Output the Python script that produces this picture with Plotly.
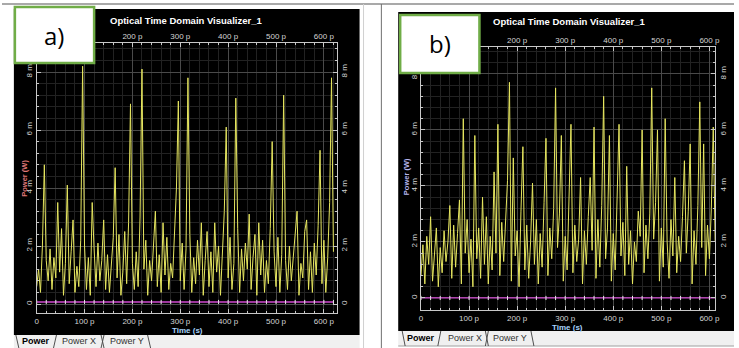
import plotly.graph_objects as go

W, H = 739, 348

# ---------------- data ----------------
dt_ps = 4  # sampling step of the traces, ps

# panel a) : optical power, mW
power_a_mW = [0.6, 1.2, 0.4, 2.0, 4.8, 1.5, 0.8, 1.9, 0.5, 1.6,
              0.9, 3.5, 1.1, 2.6, 0.3, 1.4, 4.1, 0.7, 1.8, 2.9,
              0.4, 1.3, 0.6, 2.2, 8.2, 2.0, 0.5, 1.6, 0.3, 3.5,
              1.9, 0.6, 2.1, 0.8, 1.5, 2.9, 0.5, 1.7, 0.4, 1.2,
              2.3, 4.7, 0.9, 2.4, 0.3, 1.1, 2.5, 0.7, 2.8, 6.9,
              1.4, 0.5, 1.8, 0.6, 3.0, 8.1, 1.2, 2.2, 0.3, 1.5,
              0.8, 2.0, 3.2, 0.6, 1.7, 0.4, 2.8, 1.0, 2.3, 0.5,
              1.4, 0.9, 2.6, 4.0, 7.0, 0.8, 2.1, 0.5, 1.9, 7.8,
              2.4, 0.4, 1.6, 0.7, 2.2, 1.0, 2.8, 0.3, 1.5, 2.5,
              0.6, 1.8, 0.4, 2.8, 1.1, 2.0, 0.3, 1.7, 3.2, 6.1,
              0.9, 2.3, 0.5, 1.4, 7.1, 2.6, 0.4, 1.9, 0.8, 2.1,
              1.2, 3.1, 0.5, 1.6, 2.4, 0.3, 2.8, 1.0, 2.2, 0.4,
              1.5, 0.7, 2.6, 5.6, 1.8, 0.6, 2.3, 0.4, 1.7, 7.2,
              1.5, 0.5, 2.0, 0.8, 1.6, 2.4, 3.2, 0.3, 1.4, 0.9,
              2.5, 2.9, 0.5, 1.8, 0.4, 2.1, 1.0, 2.7, 5.3, 0.7,
              2.2, 0.4, 1.6, 3.5, 7.8, 1.8]

# panel b) : optical power, mW
power_b_mW = [0.8, 1.9, 0.5, 2.2, 1.2, 2.9, 0.6, 1.5, 2.5, 0.4,
              1.8, 0.9, 2.4, 1.3, 2.0, 3.3, 0.7, 2.6, 1.1, 2.3,
              3.5, 0.5, 6.4, 1.6, 2.8, 0.9, 2.1, 0.4, 5.8, 1.4,
              2.5, 0.7, 3.6, 1.2, 2.9, 0.5, 2.2, 1.0, 4.5, 1.6,
              6.2, 0.8, 2.7, 1.3, 3.0, 4.2, 7.7, 0.6, 5.0, 1.5,
              2.4, 0.4, 3.1, 5.4, 1.0, 2.6, 0.7, 2.0, 4.1, 1.2,
              2.8, 0.5, 2.3, 1.1, 3.4, 5.7, 0.8, 2.5, 1.4, 3.2,
              7.5, 1.8, 3.0, 5.8, 0.6, 2.2, 1.0, 3.5, 6.2, 0.9,
              2.6, 1.3, 2.1, 4.3, 0.5, 2.4, 1.2, 2.9, 4.3, 1.7,
              6.1, 0.7, 2.8, 1.1, 3.3, 7.2, 1.4, 2.5, 5.8, 0.6,
              2.3, 1.0, 3.6, 6.2, 1.5, 2.7, 0.8, 4.7, 1.2, 2.4,
              0.5, 2.0, 1.3, 3.1, 2.2, 6.0, 0.9, 2.6, 1.4, 3.0,
              7.5, 2.1, 3.4, 6.0, 0.6, 2.5, 1.1, 6.4, 2.0, 0.7,
              2.8, 1.5, 4.3, 0.9, 2.2, 1.3, 2.9, 4.9, 1.6, 3.1,
              5.5, 0.5, 2.4, 1.2, 3.3, 7.0, 1.8, 5.5, 0.8, 2.6,
              1.4, 3.2, 6.1, 2.0]

time_a_ps = [i * dt_ps for i in range(len(power_a_mW))]
time_b_ps = [i * dt_ps for i in range(len(power_b_mW))]

# noise floor traces (magenta)
noise_t_ps = [0, 20, 40, 60, 80, 100, 120, 140, 160, 180, 200, 220, 240, 260,
              280, 300, 320, 340, 360, 380, 400, 420, 440, 460, 480, 500, 520,
              540, 560, 580, 600, 620]
noise_a_mW = [0.07] * len(noise_t_ps)
noise_b_mW = [0.0] * len(noise_t_ps)

x_tick_vals = [0, 100, 200, 300, 400, 500, 600]
x_tick_text = ["0", "100 p", "200 p", "300 p", "400 p", "500 p", "600 p"]
top_tick_vals = [200, 300, 400, 500, 600]
top_tick_text = ["200 p", "300 p", "400 p", "500 p", "600 p"]
y_tick_vals = [0, 2, 4, 6, 8]
y_tick_text = ["0", "2 m", "4 m", "6 m", "8 m"]

title_text = "Optical Time Domain Visualizer_1"
tab_names = ["Power", "Power X", "Power Y"]

# ---------------- helpers ----------------
def px(x):
    return x / W

def py(y):
    return 1 - y / H

def xdom(a, b):
    return [px(a), px(b)]

def ydom(top, bottom):
    return [py(bottom), py(top)]

TICKFONT = dict(family="Liberation Sans, Arial", size=8, color="#d4d4d4")
LINEC = "#c8c8c8"

def x_axis(domain, rng, anchor, vals, text, side="bottom", overlay=None, grid=True):
    d = dict(domain=domain, range=rng, anchor=anchor, side=side,
             tickmode="array", tickvals=vals, ticktext=text,
             tickfont=TICKFONT, showline=True, linecolor=LINEC, linewidth=1,
             ticks="inside", ticklen=4, tickcolor=LINEC, tickwidth=1,
             showgrid=grid, gridcolor="#4a4a4a", gridwidth=1, zeroline=False,
             fixedrange=True,
             minor=dict(tick0=0, dtick=20, ticks="inside", ticklen=2,
                        tickcolor=LINEC, showgrid=grid, gridcolor="#222222"))
    if overlay:
        d["overlaying"] = overlay
    return d

def y_axis(domain, rng, anchor, side="left", overlay=None, grid=True):
    d = dict(domain=domain, range=rng, anchor=anchor, side=side,
             tickmode="array", tickvals=y_tick_vals, ticktext=y_tick_text,
             tickangle=-90, tickfont=TICKFONT,
             showline=True, linecolor=LINEC, linewidth=1,
             ticks="inside", ticklen=4, tickcolor=LINEC, tickwidth=1,
             showgrid=grid, gridcolor="#4a4a4a", gridwidth=1, zeroline=False,
             fixedrange=True,
             minor=dict(tick0=0, dtick=0.4, ticks="inside", ticklen=2,
                        tickcolor=LINEC, showgrid=grid, gridcolor="#222222"))
    if overlay:
        d["overlaying"] = overlay
    return d

# plot areas (pixels)
A = dict(l=35, r=338, t=43, b=313)
B = dict(l=423, r=720, t=47, b=310)
xr_a = [0, 627]
xr_b = [0, 612]
yr_a = [-0.31, 9.0]
yr_b = [-0.43, 8.96]

YEL = "#e6e660"
MAG = "#d048d0"

fig = go.Figure()
fig.add_trace(go.Scatter(x=time_a_ps, y=power_a_mW, xaxis="x", yaxis="y",
                         mode="lines", line=dict(color=YEL, width=1),
                         hoverinfo="skip", showlegend=False))
fig.add_trace(go.Scatter(x=noise_t_ps, y=noise_a_mW, xaxis="x3", yaxis="y3",
                         mode="lines+markers", line=dict(color=MAG, width=1.3),
                         marker=dict(symbol="line-ns", size=3,
                                     line=dict(color="#e8e8e8", width=1)),
                         hoverinfo="skip", showlegend=False))
fig.add_trace(go.Scatter(x=time_b_ps, y=power_b_mW, xaxis="x2", yaxis="y2",
                         mode="lines", line=dict(color=YEL, width=1),
                         hoverinfo="skip", showlegend=False))
fig.add_trace(go.Scatter(x=noise_t_ps, y=noise_b_mW, xaxis="x4", yaxis="y4",
                         mode="lines+markers", line=dict(color=MAG, width=1.3),
                         marker=dict(symbol="line-ns", size=3,
                                     line=dict(color="#e8e8e8", width=1)),
                         hoverinfo="skip", showlegend=False))

layout = dict(
    width=W, height=H, margin=dict(l=0, r=0, t=0, b=0),
    paper_bgcolor="white", plot_bgcolor="black", showlegend=False,
    xaxis=x_axis(xdom(A["l"], A["r"]), xr_a, "y", x_tick_vals, x_tick_text),
    yaxis=y_axis(ydom(A["t"], A["b"]), yr_a, "x"),
    xaxis3=x_axis(xdom(A["l"], A["r"]), xr_a, "y", top_tick_vals, top_tick_text,
                  side="top", overlay="x", grid=False),
    yaxis3=y_axis(ydom(A["t"], A["b"]), yr_a, "x", side="right", overlay="y", grid=False),
    xaxis2=x_axis(xdom(B["l"], B["r"]), xr_b, "y2", x_tick_vals, x_tick_text),
    yaxis2=y_axis(ydom(B["t"], B["b"]), yr_b, "x2"),
    xaxis4=x_axis(xdom(B["l"], B["r"]), xr_b, "y2", top_tick_vals, top_tick_text,
                  side="top", overlay="x2", grid=False),
    yaxis4=y_axis(ydom(B["t"], B["b"]), yr_b, "x2", side="right", overlay="y2", grid=False),
)
fig.update_layout(**layout)

shapes = []
def rect(x0, y0, x1, y1, fill, line_color=None, lw=0, layer="below"):
    shapes.append(dict(type="rect", xref="paper", yref="paper",
                       x0=px(x0), x1=px(x1), y0=py(y1), y1=py(y0),
                       fillcolor=fill, layer=layer,
                       line=dict(color=line_color or fill, width=lw)))

def line(x0, y0, x1, y1, color, lw=1, layer="above"):
    shapes.append(dict(type="line", xref="paper", yref="paper",
                       x0=px(x0), x1=px(x1), y0=py(y0), y1=py(y1),
                       layer=layer, line=dict(color=color, width=lw)))

# window frames
line(0, 4, W, 4, "#8c8c8c", 1.5, "below")
line(365, 4, 365, H, "#d0d0d0", 1, "below")
line(383, 4, 383, H, "#707070", 1, "below")
rect(12, 9, 361, 335, "black")
rect(400, 12, 739, 331, "black")
# tab strips
rect(12, 335, 361, 348, "#f0f0f0")
rect(400, 331, 739, 346, "#f0f0f0")
line(400, 346, 739, 346, "#a0a0a0", 1, "below")

# tab separators
def tabs(xs, y0, y1):
    for i, x in enumerate(xs):
        if i % 2 == 0:
            line(x, y0, x + 3, y1, "#505050", 1)
        else:
            line(x + 3, y0, x, y1, "#505050", 1)

tabs([14, 52, 100, 100, 147], 335, 348)
tabs([404, 440, 488, 488, 534], 331, 346)

# label boxes a) b)
rect(13, 7, 93, 63, "white", "#70ad47", 2.5, "above")
rect(402, 15, 482, 73, "white", "#70ad47", 2.5, "above")
fig.update_layout(shapes=shapes)

ann = []
def text(x, y, s, size, color, bold=False, angle=0, family="Liberation Sans, Arial"):
    ann.append(dict(xref="paper", yref="paper", x=px(x), y=py(y), text=("<b>%s</b>" % s) if bold else s,
                    showarrow=False, xanchor="center", yanchor="middle", textangle=angle,
                    font=dict(size=size, color=color, family=family)))

text(53, 36, "a)", 24, "black", family="Open Sans, Liberation Sans")
text(442, 43, "b)", 24, "black", family="Open Sans, Liberation Sans")
text(186, 20, title_text, 9.5, "white", bold=True)
text(572, 22, title_text, 9.5, "white", bold=True)
text(187, 330, "Time (s)", 8, "#a8d4ff", bold=True)
text(571, 327, "Time (s)", 8, "#a8d4ff", bold=True)
text(22, 178, "Power (W)", 7.5, "#e07878", bold=True, angle=-90)
text(408, 177, "Power (W)", 7.5, "#b8b8f0", bold=True, angle=-90)
# tab labels
text(34, 341, tab_names[0], 9, "black", bold=True)
text(78, 341, tab_names[1], 9, "#303030")
text(126, 341, tab_names[2], 9, "#303030")
text(423, 338, tab_names[0], 9, "black", bold=True)
text(467, 338, tab_names[1], 9, "#303030")
text(513, 338, tab_names[2], 9, "#303030")
fig.update_layout(annotations=ann)

fig.write_html("out.html")
